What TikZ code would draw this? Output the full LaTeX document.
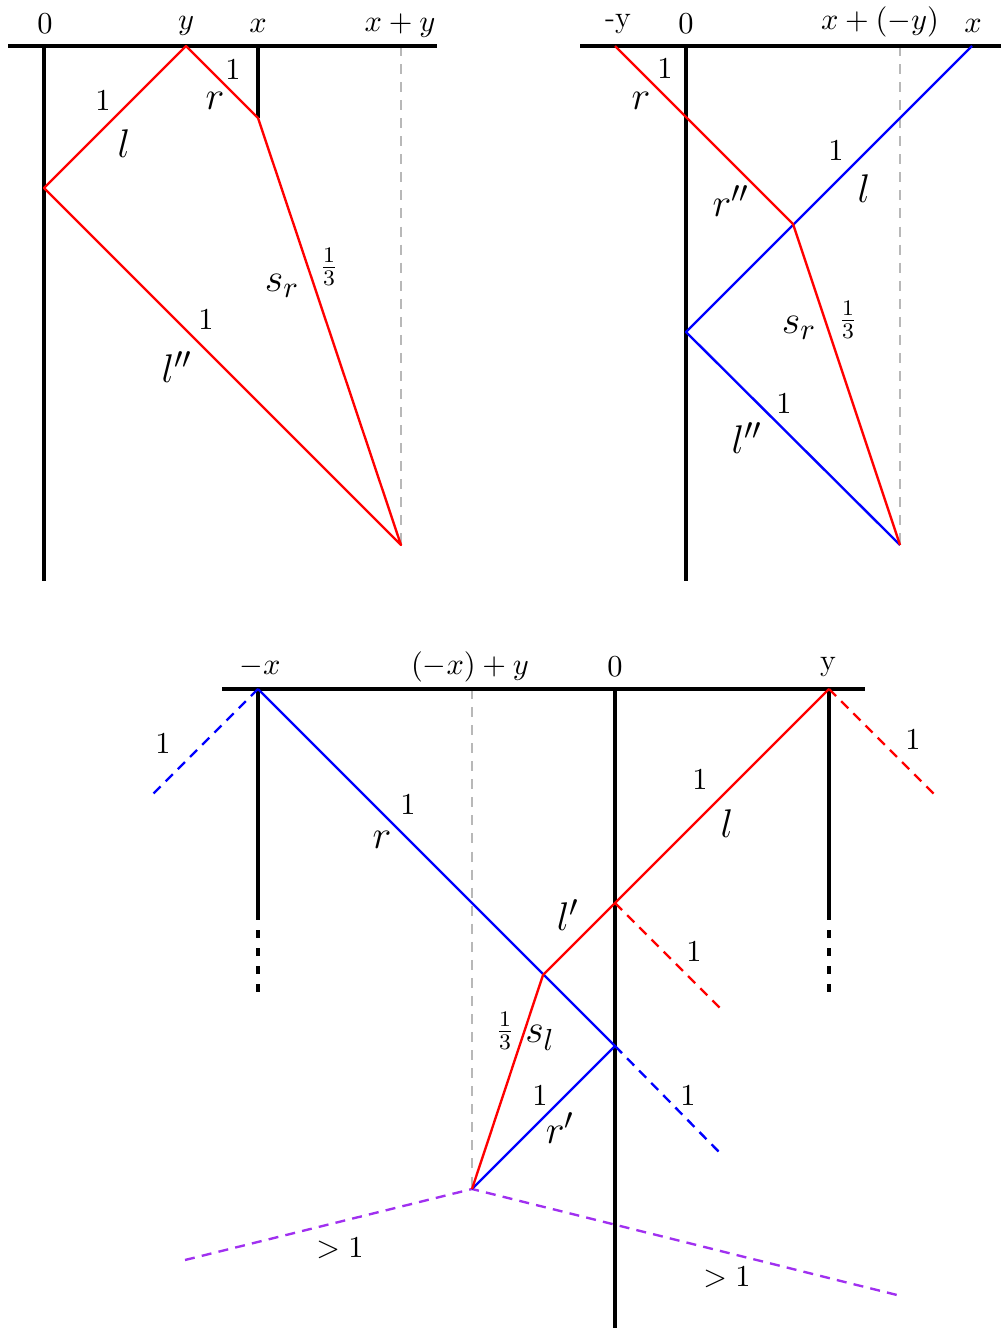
\documentclass[tikz,border=0pt]{standalone}
\usepackage{amsmath}
\usetikzlibrary{positioning}
\definecolor{raypurple}{HTML}{A030F0}
\tikzset{
  axis/.style={line width=1.2pt, black},
  axisdash/.style={line width=1.2pt, black, dash pattern=on 2.9pt off 3.6pt},
  guide/.style={black!28, dash pattern=on 3.6pt off 2.9pt, line width=0.8pt},
  rayred/.style={red, line width=0.85pt, line join=round},
  rayblue/.style={blue, line width=0.85pt, line join=round},
  raydash/.style={dash pattern=on 3.6pt off 2.6pt},
  raypur/.style={raypurple, line width=0.85pt, raydash},
  lbl/.style={inner sep=0pt, font=\fontsize{11}{13}\selectfont},
  big/.style={inner sep=0pt, font=\fontsize{15}{18}\selectfont},
}

\begin{document}
\begin{tikzpicture}[x=0.36pt, y=-0.36pt]
  \useasboundingbox (0,0) rectangle (1001,1328);

  % left picture: x and y both positive
  \coordinate (aL) at (8,46);    \coordinate (aR) at (437,46);
  \coordinate (a0) at (44,46);   \coordinate (a0b) at (44,581);
  \coordinate (ay) at (186,46);  \coordinate (ax) at (258,46);
  \coordinate (axb) at (258,118);
  \coordinate (axy) at (401,46); \coordinate (axyb) at (401,545);
  \coordinate (al) at (44,188);
  \draw[guide] (axy) -- (axyb);
  \draw[axis] (aL) -- (aR);
  \draw[axis] (a0) -- (a0b);
  \draw[axis] (ax) -- (axb);
  \draw[rayred] (al) -- (ay) -- (axb) -- (axyb) -- cycle;
  \node[lbl] (ta0) at (45,24) {$0$};
  \node[lbl] (tay) at (186,26) {$y$};
  \node[lbl] (tax) at (258,26) {$x$};
  \node[lbl] (taxy) at (400,26) {$x+y$};
  \node[lbl] (na1) at (103,101) {$1$};
  \node[big] (nal) at (124,144) {$l$};
  \node[lbl] (na2) at (233,70) {$1$};
  \node[big] (nar) at (215,101) {$r$};
  \node[big] (nas) at (282,286) {$s_r$};
  \node[lbl] (naf) at (329,267) {$\frac{1}{3}$};
  \node[lbl] (na3) at (206,320) {$1$};
  \node[big] (nall) at (177,367) {$l''$};

  % right picture: y replaced by -y
  \coordinate (bL) at (580,46);  \coordinate (bR) at (1001,46);
  \coordinate (b0) at (686,46);  \coordinate (b0b) at (686,581);
  \coordinate (bmy) at (615,46); \coordinate (bx) at (972,46);
  \coordinate (bxy) at (900,46); \coordinate (bxyb) at (900,545);
  \coordinate (bm) at (793,224); \coordinate (bl) at (686,332);
  \draw[guide] (bxy) -- (bxyb);
  \draw[axis] (bL) -- (bR);
  \draw[axis] (b0) -- (b0b);
  \draw[rayblue] (bx) -- (bl) -- (bxyb);
  \draw[rayred] (bmy) -- (bm) -- (bxyb);
  \node[lbl] (tbmy) at (618,24) {-y};
  \node[lbl] (tb0) at (686,24) {$0$};
  \node[lbl] (tbxy) at (880,22) {$x+(-y)$};
  \node[lbl] (tbx) at (973,26) {$x$};
  \node[lbl] (nb1) at (665,69) {$1$};
  \node[big] (nbr) at (641,101) {$r$};
  \node[big] (nbrr) at (731,201) {$r''$};
  \node[lbl] (nb2) at (836,151) {$1$};
  \node[big] (nbl) at (864,189) {$l$};
  \node[big] (nbs) at (799,328) {$s_r$};
  \node[lbl] (nbf) at (848,320) {$\frac{1}{3}$};
  \node[lbl] (nb3) at (784,404) {$1$};
  \node[big] (nbll) at (747,438) {$l''$};

  % bottom picture: x replaced by -x
  \coordinate (cL) at (222,689);  \coordinate (cR) at (865,689);
  \coordinate (cmx) at (258,689); \coordinate (cmxs) at (258,912);
  \coordinate (cmxb) at (258,1000);
  \coordinate (c0) at (615,689);  \coordinate (c0b) at (615,1328);
  \coordinate (cy) at (829,689);  \coordinate (cys) at (829,912);
  \coordinate (cyb) at (829,1000);
  \coordinate (cg) at (472,689);  \coordinate (cp) at (472,1189);
  \coordinate (cr) at (615,1046); \coordinate (cl) at (615,903);
  \coordinate (cs) at (543,975);
  \coordinate (cbd1) at (150,797); \coordinate (cbd2) at (722,1155);
  \coordinate (crd1) at (937,797); \coordinate (crd2) at (722,1010);
  \coordinate (cpl) at (185,1260); \coordinate (cpr) at (897,1295);
  \draw[guide] (cg) -- (cp);
  \draw[axis] (cL) -- (cR);
  \draw[axis] (c0) -- (c0b);
  \draw[axis] (cmx) -- (cmxs);
  \draw[axisdash] (cmxs) -- (cmxb);
  \draw[axis] (cy) -- (cys);
  \draw[axisdash] (cys) -- (cyb);
  \draw[raypur] (cpl) -- (cp) -- (cpr);
  \draw[rayblue] (cmx) -- (cr) -- (cp);
  \draw[rayblue, raydash] (cmx) -- (cbd1);
  \draw[rayblue, raydash] (cr) -- (cbd2);
  \draw[rayred] (cy) -- (cl) -- (cs) -- (cp);
  \draw[rayred, raydash] (cy) -- (crd1);
  \draw[rayred, raydash] (cl) -- (crd2);
  \node[lbl] (tcmx) at (260,667) {$-x$};
  \node[lbl] (tcg) at (470,667) {$(-x)+y$};
  \node[lbl] (tc0) at (615,667) {$0$};
  \node[lbl] (tcy) at (828,667) {y};
  \node[lbl] (nc1) at (163,744) {$1$};
  \node[lbl] (nc2) at (408,805) {$1$};
  \node[big] (ncr) at (382,840) {$r$};
  \node[lbl] (nc3) at (913,740) {$1$};
  \node[lbl] (nc4) at (700,780) {$1$};
  \node[big] (ncl) at (727,824) {$l$};
  \node[big] (ncll) at (568,915) {$l'$};
  \node[lbl] (nc5) at (694,952) {$1$};
  \node[lbl] (ncf) at (505,1031) {$\frac{1}{3}$};
  \node[big] (ncs) at (540,1038) {$s_l$};
  \node[lbl] (nc6) at (540,1096) {$1$};
  \node[big] (ncrr) at (560,1128) {$r'$};
  \node[lbl] (nc7) at (688,1096) {$1$};
  \node[lbl] (ncg1) at (340,1248) {$>1$};
  \node[lbl] (ncg2) at (727,1277) {$>1$};
\end{tikzpicture}
\end{document}
